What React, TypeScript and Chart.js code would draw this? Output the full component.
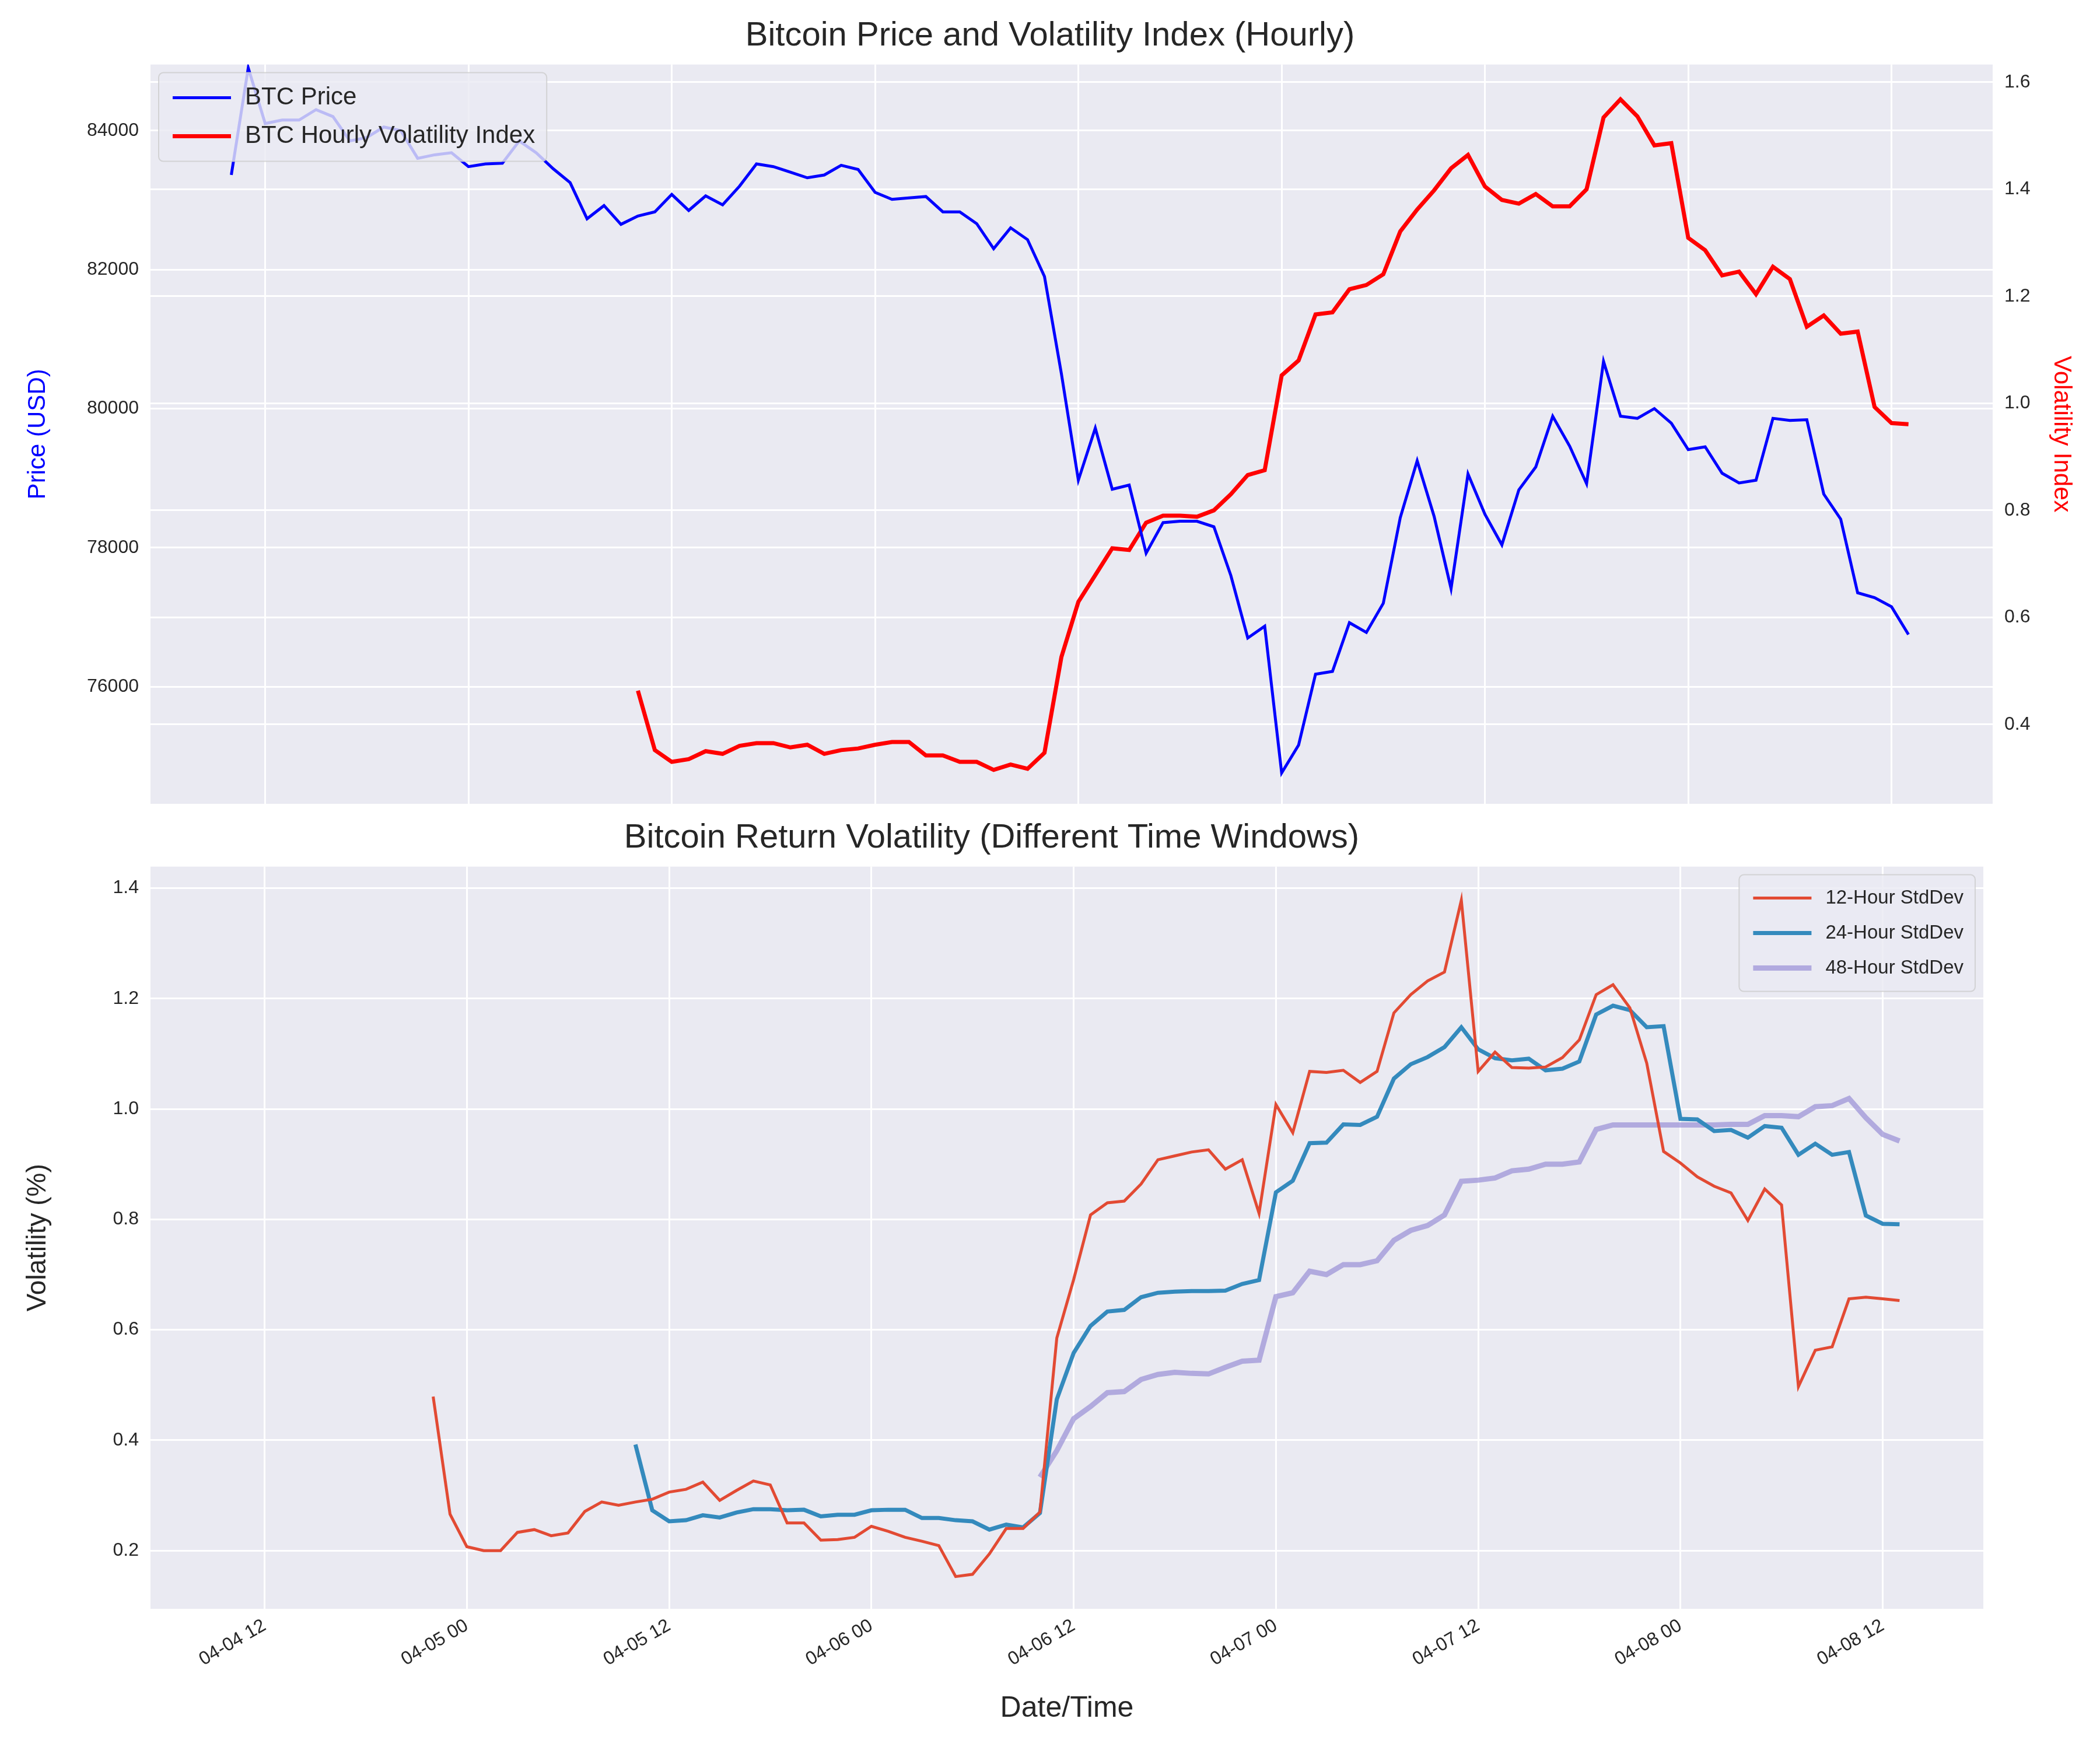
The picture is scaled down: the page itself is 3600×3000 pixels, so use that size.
import React, { useEffect, useRef } from 'react';
import Chart from 'chart.js/auto';

// hourly samples, index 0 = 04-04 10:00
const tickHours = [2, 14, 26, 38, 50, 62, 74, 86, 98];
const tickLabels = ['04-04 12', '04-05 00', '04-05 12', '04-06 00', '04-06 12', '04-07 00', '04-07 12', '04-08 00', '04-08 12'];

const btcPrice = [
  83360, 84900, 84100, 84150, 84150, 84300, 84200, 83850, 83900, 84050,
  84000, 83600, 83650, 83680, 83480, 83520, 83530, 83850, 83680, 83450,
  83250, 82730, 82920, 82650, 82770, 82830, 83080, 82850, 83060, 82930,
  83200, 83520, 83480, 83400, 83320, 83360, 83500, 83440, 83110, 83010,
  83030, 83050, 82830, 82830, 82660, 82300, 82600, 82430, 81900, 80500,
  78970, 79720, 78840, 78900, 77920, 78360, 78380, 78380, 78300, 77600,
  76700, 76870, 74760, 75160, 76180, 76220, 76920, 76780, 77200, 78430,
  79250, 78450, 77410, 79060, 78480, 78040, 78830, 79160, 79890, 79460,
  78920, 80680, 79890, 79860, 80000, 79790, 79410, 79450, 79070, 78930,
  78970, 79860, 79830, 79840, 78770, 78410, 77350, 77280, 77150, 76750,
];

// starts at hour 24
const volIndex = [
  0.463, 0.352, 0.330, 0.335, 0.350, 0.345, 0.360, 0.365, 0.365, 0.357, 0.362, 0.345, 0.352,
  0.355, 0.362, 0.367, 0.367, 0.342, 0.342, 0.330, 0.330, 0.315, 0.325, 0.317, 0.347, 0.526,
  0.629, 0.679, 0.729, 0.726, 0.777, 0.790, 0.790, 0.788, 0.800, 0.830, 0.866, 0.875, 1.052,
  1.080, 1.166, 1.170, 1.213, 1.221, 1.241, 1.321, 1.362, 1.398, 1.439, 1.464, 1.405, 1.380,
  1.373, 1.391, 1.368, 1.368, 1.400, 1.534, 1.568, 1.536, 1.482, 1.486, 1.309, 1.286, 1.239,
  1.246, 1.204, 1.255, 1.232, 1.143, 1.164, 1.130, 1.134, 0.993, 0.963, 0.961,
];

// starts at hour 12
const std12 = [
  0.479, 0.266, 0.207, 0.200, 0.200, 0.233, 0.238, 0.227, 0.232, 0.271, 0.288, 0.282, 0.288,
  0.293, 0.306, 0.311, 0.324, 0.291, 0.309, 0.326, 0.319, 0.250, 0.250, 0.219, 0.220, 0.224,
  0.244, 0.235, 0.224, 0.217, 0.209, 0.153, 0.157, 0.194, 0.240, 0.240, 0.270, 0.585, 0.691,
  0.808, 0.830, 0.833, 0.864, 0.908, 0.915, 0.922,
  0.926, 0.891, 0.908, 0.811, 1.008, 0.957, 1.068, 1.066, 1.070, 1.048, 1.068, 1.174, 1.207,
  1.232, 1.248, 1.378, 1.068, 1.103, 1.075, 1.074, 1.076, 1.093, 1.125, 1.207, 1.225, 1.183,
  1.083, 0.923, 0.902, 0.877, 0.860, 0.848, 0.798, 0.855, 0.826, 0.497, 0.563, 0.569, 0.656,
  0.659, 0.656, 0.653,
];

// starts at hour 24
const std24 = [
  0.392, 0.273, 0.253, 0.255, 0.264, 0.260, 0.269, 0.275, 0.275, 0.273, 0.274, 0.262, 0.265,
  0.265, 0.273, 0.274, 0.274, 0.259, 0.259, 0.255, 0.253, 0.238, 0.247, 0.242, 0.268, 0.474,
  0.558, 0.607, 0.633, 0.636, 0.659, 0.667, 0.669, 0.670, 0.670, 0.671, 0.683, 0.690,
  0.849, 0.870, 0.938, 0.939, 0.972, 0.971, 0.986, 1.055, 1.081, 1.094, 1.112, 1.148, 1.108,
  1.092, 1.088, 1.091, 1.070, 1.073, 1.086, 1.171, 1.187, 1.179, 1.148, 1.150, 0.982, 0.981,
  0.960, 0.962, 0.948, 0.969, 0.966, 0.917, 0.937, 0.917, 0.922, 0.807, 0.792, 0.791,
];

// starts at hour 48
const std48 = [
  0.333, 0.381, 0.439, 0.461, 0.486, 0.488, 0.510, 0.519, 0.523, 0.521, 0.520, 0.532, 0.543, 0.545,
  0.660, 0.667, 0.706, 0.700, 0.718, 0.718, 0.725, 0.762, 0.780, 0.789, 0.808, 0.869, 0.871,
  0.875, 0.888, 0.891, 0.900, 0.900, 0.904, 0.963, 0.971, 0.971, 0.971, 0.971, 0.971, 0.971,
  0.971, 0.972, 0.972, 0.988, 0.988, 0.986, 1.004, 1.006, 1.019, 0.984, 0.954, 0.942,
];

const priceTicks = [76000, 78000, 80000, 82000, 84000];
const volIndexTicks = [0.4, 0.6, 0.8, 1.0, 1.2, 1.4, 1.6];
const stdTicks = [0.2, 0.4, 0.6, 0.8, 1.0, 1.2, 1.4];

const FONT = 'Liberation Sans, Arial, sans-serif';
const TXT = '#262626';

const pts = (arr: number[], start: number) => arr.map((v, i) => ({ x: start + i, y: v }));

const bgPlugin = {
  id: 'bg',
  beforeDraw(chart: any) {
    const { ctx, chartArea: a } = chart;
    ctx.save();
    ctx.fillStyle = '#EAEAF2';
    ctx.fillRect(a.left, a.top, a.right - a.left, a.bottom - a.top);
    ctx.restore();
  },
};

const boxLegend = {
  id: 'boxLegend',
  afterDatasetsDraw(chart: any, _args: any, opts: any) {
    const { ctx, chartArea: a } = chart;
    const items = chart.data.datasets;
    const rowH = opts.rowH;
    ctx.save();
    ctx.font = `${opts.size}px ${FONT}`;
    let textW = 0;
    items.forEach((d: any) => { textW = Math.max(textW, ctx.measureText(d.label).width); });
    const w = 24 + 100 + 24 + textW + 20;
    const h = items.length * rowH + 20;
    const x = opts.side === 'left' ? a.left + 14 : a.right - 14 - w;
    const y = a.top + 14;
    ctx.fillStyle = 'rgba(234,234,242,0.8)';
    ctx.strokeStyle = 'rgba(204,204,204,0.8)';
    ctx.lineWidth = 2;
    ctx.beginPath();
    ctx.roundRect(x, y, w, h, 8);
    ctx.fill();
    ctx.stroke();
    items.forEach((d: any, i: number) => {
      const cy = y + 10 + rowH * i + rowH / 2;
      ctx.strokeStyle = d.borderColor;
      ctx.lineWidth = d.borderWidth;
      ctx.beginPath();
      ctx.moveTo(x + 24, cy);
      ctx.lineTo(x + 124, cy);
      ctx.stroke();
      ctx.fillStyle = TXT;
      ctx.textBaseline = 'middle';
      ctx.fillText(d.label, x + 148, cy);
    });
    ctx.restore();
  },
};

const xScale = (showLabels: boolean, height: number) => ({
  type: 'linear' as const,
  min: -4.77,
  max: 103.97,
  afterBuildTicks: (s: any) => { s.ticks = tickHours.map((v) => ({ value: v })); },
  afterFit: (s: any) => { s.height = height; },
  grid: { color: '#ffffff', lineWidth: 3, drawTicks: false },
  border: { display: false },
  ticks: {
    display: showLabels,
    autoSkip: false,
    minRotation: 30,
    maxRotation: 30,
    padding: 10,
    color: TXT,
    font: { family: FONT, size: 32 },
    callback: (v: any) => tickLabels[tickHours.indexOf(v)] ?? '',
  },
  title: showLabels
    ? { display: true, text: 'Date/Time', color: TXT, font: { family: FONT, size: 50 }, padding: { top: 32, bottom: 41 } }
    : { display: false },
});

const yScale = (ticks: number[], min: number, max: number, pos: 'left' | 'right', width: number, title: string, color: string, titleSize: number, titlePad: number, fmt: (v: number) => string) => ({
  type: 'linear' as const,
  position: pos,
  min,
  max,
  afterBuildTicks: (s: any) => { s.ticks = ticks.map((v) => ({ value: v })); },
  afterFit: (s: any) => { s.width = width; },
  grid: { color: '#ffffff', lineWidth: 3, drawTicks: false },
  border: { display: false },
  ticks: { padding: 20, color: TXT, font: { family: FONT, size: 32 }, callback: (v: any) => fmt(v) },
  title: { display: true, text: title, color, font: { family: FONT, size: titleSize }, padding: { top: titlePad, bottom: 0 } },
});

const titleOpts = (text: string, top: number) => ({
  display: true,
  text,
  color: TXT,
  font: { family: FONT, size: 58, weight: 'normal' as const },
  padding: { top, bottom: 14 },
});

const App: React.FC = () => {
  const topRef = useRef<HTMLCanvasElement | null>(null);
  const botRef = useRef<HTMLCanvasElement | null>(null);

  useEffect(() => {
    if (!topRef.current || !botRef.current) return;

    const top = new Chart(topRef.current, {
      type: 'line',
      data: {
        datasets: [
          { label: 'BTC Price', data: pts(btcPrice, 0), borderColor: '#0000ff', borderWidth: 5, pointRadius: 0, yAxisID: 'y' },
          { label: 'BTC Hourly Volatility Index', data: pts(volIndex, 24), borderColor: '#ff0000', borderWidth: 7, pointRadius: 0, yAxisID: 'y1' },
        ],
      },
      options: {
        animation: false,
        responsive: false,
        layout: { padding: 0 },
        plugins: {
          legend: { display: false },
          tooltip: { enabled: false },
          title: titleOpts('Bitcoin Price and Volatility Index (Hourly)', 27),
          boxLegend: { side: 'left', size: 42, rowH: 66 },
        } as any,
        scales: {
          x: xScale(false, 62),
          y: yScale(priceTicks, 74315, 84949, 'left', 258, 'Price (USD)', '#0000ff', 42, 40, (v) => String(v)),
          y1: yScale(volIndexTicks, 0.2516, 1.633, 'right', 184, 'Volatility Index', '#ff0000', 42, 41, (v) => v.toFixed(1)),
        } as any,
      },
      plugins: [bgPlugin, boxLegend],
    });

    const bot = new Chart(botRef.current, {
      type: 'line',
      data: {
        datasets: [
          { label: '12-Hour StdDev', data: pts(std12, 12), borderColor: '#E24A33', borderWidth: 5, pointRadius: 0 },
          { label: '24-Hour StdDev', data: pts(std24, 24), borderColor: '#348ABD', borderWidth: 7, pointRadius: 0 },
          { label: '48-Hour StdDev', data: pts(std48, 48), borderColor: 'rgba(152,142,213,0.7)', borderWidth: 9, pointRadius: 0 },
        ],
      },
      options: {
        animation: false,
        responsive: false,
        layout: { padding: { right: 200 } },
        plugins: {
          legend: { display: false },
          tooltip: { enabled: false },
          title: titleOpts('Bitcoin Return Volatility (Different Time Windows)', 22),
          boxLegend: { side: 'right', size: 33, rowH: 60 },
        } as any,
        scales: {
          x: xScale(true, 242),
          y: yScale(stdTicks, 0.0945, 1.439, 'left', 258, 'Volatility (%)', TXT, 46, 38, (v) => v.toFixed(1)),
        } as any,
      },
      plugins: [bgPlugin, boxLegend],
    });

    return () => {
      top.destroy();
      bot.destroy();
    };
  }, []);

  return (
    <div style={{ position: 'absolute', left: 0, top: 0, width: 3600, height: 3000, background: '#ffffff' }}>
      <canvas ref={topRef} width={3600} height={1440} style={{ position: 'absolute', left: 0, top: 0, width: 3600, height: 1440 }} />
      <canvas ref={botRef} width={3600} height={1620} style={{ position: 'absolute', left: 0, top: 1380, width: 3600, height: 1620 }} />
    </div>
  );
};

export default App;
